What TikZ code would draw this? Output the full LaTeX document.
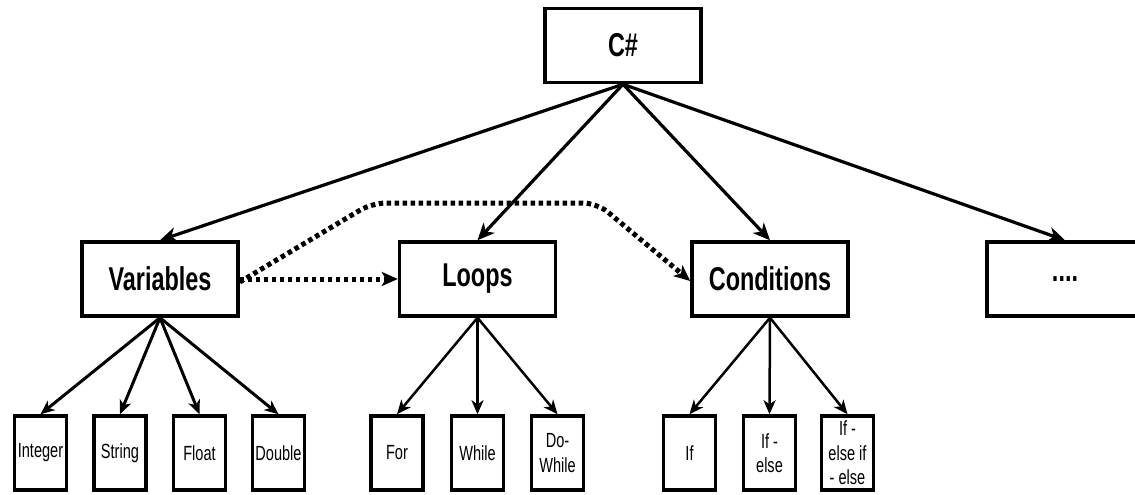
\documentclass[tikz,border=0pt]{standalone}
\usepackage{fontspec}
\setmainfont{Liberation Sans}[FakeStretch=0.71]
\usetikzlibrary{arrows.meta,positioning}

\tikzset{
  bigbox/.style={draw, line width=3.5pt, minimum width=156pt, minimum height=74pt,
                 inner sep=1pt, font=\fontsize{33}{38}\selectfont\bfseries},
  leafbox/.style={draw, line width=3.5pt, minimum width=52pt, minimum height=74pt,
                  inner sep=0.5pt, align=center, font=\fontsize{20.5}{24.5}\selectfont},
  toparrow/.style={line width=3.2pt, -{Stealth[length=17pt, width=15pt, inset=5pt]}},
  subarrow/.style={line width=#1, -{Stealth[length=14pt, width=12pt, inset=4pt]}},
  subarrow/.default=2.5pt,
  dotarrow/.style={line width=5pt, dash pattern=on 4.5pt off 3.5pt,
                   -{Stealth[length=16pt, width=14pt, inset=4pt]}},
}

\begin{document}
\begin{tikzpicture}[x=1pt, y=-1pt]
  \useasboundingbox (0,0) rectangle (1135,495);
  \fill[white] (0,0) rectangle (1135,495);
  \clip (0,0) rectangle (1135,495);

  % top level
  \node[bigbox] (cs) at (623,45.5) {C\#};

  % second level
  \node[bigbox] (var)  at (160,279)  {Variables};
  \node[bigbox] (loop) at (477.5,279) {Loops};
  \node[bigbox] (cond) at (770,279)  {Conditions};
  \node[bigbox] (more) at (1065,279) {....};

  % leaves
  \node[leafbox] (int)   at (40.5,453)  {Integer};
  \node[leafbox] (str)   at (120,453)   {String};
  \node[leafbox] (flt)   at (199.5,453) {Float};
  \node[leafbox] (dbl)   at (278.5,453) {Double};
  \node[leafbox] (for)   at (397,453)   {For};
  \node[leafbox] (while) at (477.5,453) {While};
  \node[leafbox] (dowh)  at (557.5,453) {Do-\\While};
  \node[leafbox] (if)    at (689.5,453) {If};
  \node[leafbox] (ifel)  at (769.5,453) {If -\\else};
  \node[leafbox] (ifeif) at (847.5,453) {If -\\else if\\- else};

  % C# to its topics
  \foreach \t in {var, loop, cond, more}
    \draw[toparrow] (cs.south) -- (\t.north);

  % topics to their items
  \foreach \t in {int, str, flt, dbl}
    \draw[subarrow=3pt] (var.south) -- (\t.north);
  \foreach \t in {for, while, dowh}
    \draw[subarrow] (loop.south) -- (\t.north);
  \foreach \t in {if, ifel, ifeif}
    \draw[subarrow] (cond.south) -- (\t.north);

  % learning path
  \coordinate (up1) at (372,203);
  \coordinate (up2) at (597,203);
  \draw[dotarrow] (var.east) -- (loop.west);
  \draw[dotarrow, rounded corners=14pt] ([yshift=-3pt]var.east) -- (up1) -- (up2) -- ([yshift=-2pt]cond.west);
\end{tikzpicture}
\end{document}
